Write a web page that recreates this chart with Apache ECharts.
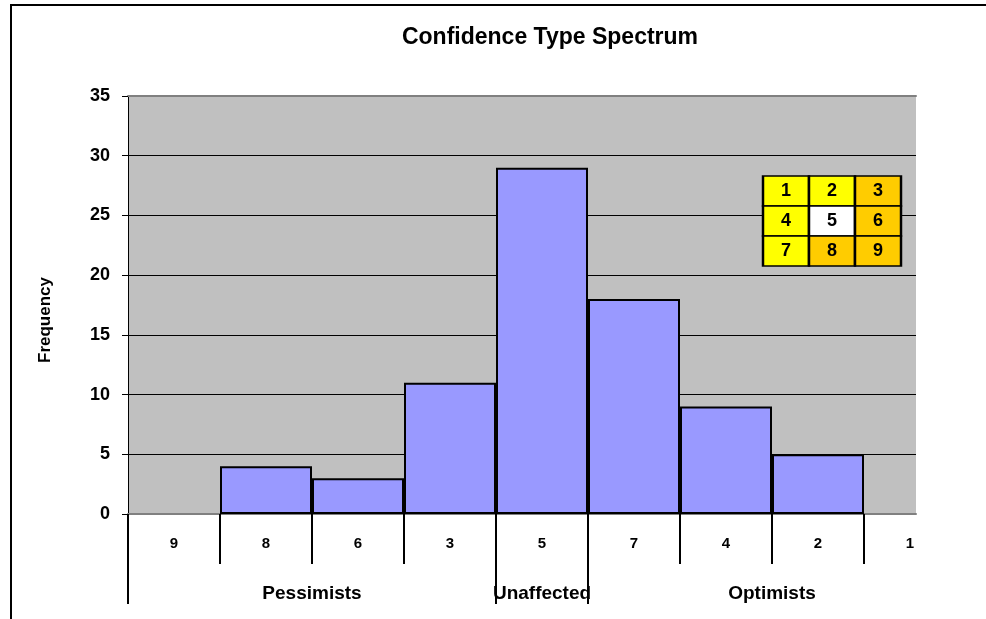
<!DOCTYPE html>
<html>
<head>
<meta charset="utf-8">
<title>Confidence Type Spectrum</title>
<script src="https://cdn.jsdelivr.net/npm/echarts@6/dist/echarts.min.js"></script>
<style>
  html, body { margin: 0; padding: 0; background: #fff; }
  #chart { width: 986px; height: 619px; }
</style>
</head>
<body>
<div id="chart"></div>
<script>
// spectrum order of the confidence types
var categories = ["9", "8", "6", "3", "5", "7", "4", "2", "1"];
var frequency = [0, 4, 3, 11, 29, 18, 9, 5, 0];
var yMax = 35;
var yStep = 5;

// group row under the axis, positions in half-category steps
var groupNames = ["Pessimists", "Unaffected", "Optimists"];
var groupLabelAt = [4, 9, 14];
var groupDividerAt = [0, 8, 10];

// 3x3 key in the corner
var keyNums = [[1, 2, 3], [4, 5, 6], [7, 8, 9]];
var keyColors = [
  ["#FFFF00", "#FFFF00", "#FFCC00"],
  ["#FFFF00", "#FFFFFF", "#FFCC00"],
  ["#FFFF00", "#FFCC00", "#FFCC00"]
];

var FONT = "Liberation Sans, Arial, sans-serif";

// half-step axes (boundaryGap false) so ticks can sit on bar edges
var halfCount = categories.length * 2 + 1;
var catHalf = [];
var groupHalf = [];
for (var j = 0; j < halfCount; j++) {
  catHalf.push(j % 2 === 1 ? categories[(j - 1) / 2] : "");
  var g = groupLabelAt.indexOf(j);
  groupHalf.push(g >= 0 ? groupNames[g] : "");
}

// empty bars get no outline (otherwise a flat black line shows)
var barData = frequency.map(function (v) {
  return v === 0 ? { value: v, itemStyle: { borderWidth: 0 } } : v;
});

var keyData = [];
for (var r = 0; r < keyNums.length; r++) {
  for (var c = 0; c < keyNums[r].length; c++) {
    keyData.push({
      value: [c, r, keyNums[r][c]],
      itemStyle: { color: keyColors[r][c] }
    });
  }
}

var myChart = echarts.init(document.getElementById("chart"));

var option = {
  animation: false,
  title: {
    text: "Confidence Type Spectrum",
    left: 545,
    top: 21,
    textAlign: "center",
    textStyle: { fontFamily: FONT, fontSize: 23, fontWeight: "bold", color: "#000" }
  },
  grid: [
    // bars: 9 bands, last one runs past the grey area
    { left: 128, top: 96, width: 828, height: 418 },
    // grey plot area
    { left: 128, top: 96, width: 788, height: 418, show: true,
      backgroundColor: "#C0C0C0", borderWidth: 0, z: -1 },
    // key
    { left: 763, top: 176, width: 138, height: 90 }
  ],
  xAxis: [
    { gridIndex: 0, type: "category", data: categories, show: false },
    { gridIndex: 1, type: "value", min: 0, max: 1, position: "bottom",
      axisLine: { show: true, lineStyle: { color: "#808080", width: 2 } },
      axisTick: { show: false }, axisLabel: { show: false }, splitLine: { show: false } },
    { gridIndex: 1, type: "value", min: 0, max: 1, position: "top",
      axisLine: { show: true, lineStyle: { color: "#808080", width: 2 } },
      axisTick: { show: false }, axisLabel: { show: false }, splitLine: { show: false } },
    { gridIndex: 0, type: "category", data: catHalf, boundaryGap: false,
      position: "bottom", offset: 0,
      axisLine: { show: false },
      axisTick: {
        show: true, length: 50,
        interval: function (index) { return index % 2 === 0 && index < halfCount - 1; },
        lineStyle: { color: "#000", width: 2 }
      },
      axisLabel: { interval: 0, margin: 22, color: "#000",
        fontFamily: FONT, fontSize: 15, fontWeight: "bold" },
      splitLine: { show: false } },
    { gridIndex: 0, type: "category", data: groupHalf, boundaryGap: false,
      position: "bottom", offset: 0,
      axisLine: { show: false },
      axisTick: {
        show: true, length: 90,
        interval: function (index) { return groupDividerAt.indexOf(index) >= 0; },
        lineStyle: { color: "#000", width: 2 }
      },
      axisLabel: { interval: 0, margin: 70, color: "#000",
        fontFamily: FONT, fontSize: 19, fontWeight: "bold" },
      splitLine: { show: false } },
    { gridIndex: 2, type: "category", data: [0, 1, 2], show: false }
  ],
  yAxis: [
    { gridIndex: 0, type: "value", min: 0, max: yMax, interval: yStep, show: false },
    { gridIndex: 1, type: "value", min: 0, max: yMax, interval: yStep,
      name: "Frequency", nameLocation: "middle", nameRotate: 90, nameGap: 74,
      nameTextStyle: { fontFamily: FONT, fontSize: 17, fontWeight: "bold", color: "#000",
        padding: [0, 30, 0, 0] },
      axisLine: { show: true, lineStyle: { color: "#000", width: 1 } },
      axisTick: { show: true, length: 6, lineStyle: { color: "#000" } },
      axisLabel: { margin: 18, color: "#000", fontFamily: FONT, fontSize: 18, fontWeight: "bold" },
      splitLine: { show: true, lineStyle: { color: "#000", width: 1 } } },
    { gridIndex: 2, type: "category", data: [0, 1, 2], inverse: true, show: false }
  ],
  series: [
    {
      type: "bar",
      xAxisIndex: 0,
      yAxisIndex: 0,
      data: barData,
      barCategoryGap: "0%",
      itemStyle: { color: "#9999FF", borderColor: "#000", borderWidth: 2 }
    },
    {
      type: "scatter",
      xAxisIndex: 5,
      yAxisIndex: 2,
      symbol: "rect",
      symbolSize: [46, 30],
      data: keyData,
      itemStyle: { borderColor: "#000", borderWidth: 2, opacity: 1 },
      label: {
        show: true, position: "inside", color: "#000",
        fontFamily: FONT, fontSize: 18, fontWeight: "bold",
        formatter: function (p) { return p.value[2]; }
      },
      z: 5
    }
  ],
  graphic: [
    {
      type: "polyline",
      shape: { points: [[11, 619], [11, 5], [986, 5]] },
      style: { stroke: "#000", lineWidth: 2, fill: null },
      silent: true
    }
  ]
};

myChart.setOption(option);
</script>
</body>
</html>
